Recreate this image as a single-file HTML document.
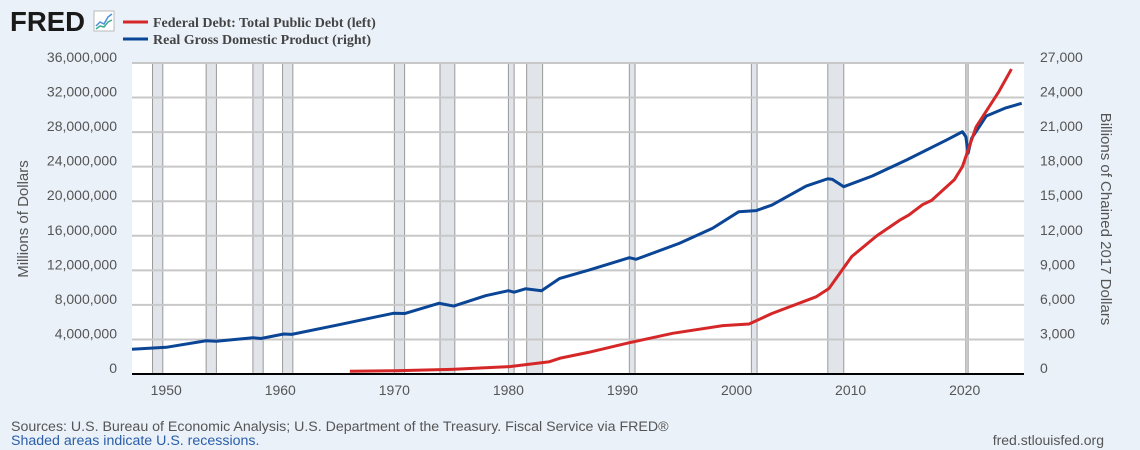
<!DOCTYPE html>
<html><head><meta charset="utf-8"><style>
body{margin:0;background:#eaf1f9;}
svg{display:block;font-family:"Liberation Sans",Arial,sans-serif;}
</style></head><body>
<svg id="chart" width="1140" height="450" viewBox="0 0 1140 450">
<rect width="1140" height="450" fill="#eaf1f9"/>
<text x="10" y="31" font-size="28" font-weight="bold" fill="#1a1a1a" textLength="75" lengthAdjust="spacingAndGlyphs">FRED</text>
<g><rect x="94" y="11" width="20" height="20" fill="#fff" stroke="#bbb"/><polyline points="96,26 100,22 104,24 108,17 112,14" fill="none" stroke="#4a90d9" stroke-width="1.5"/><polyline points="96,29 100,26 104,27 108,22 112,20" fill="none" stroke="#3bb08f" stroke-width="1.5"/></g>
<g>
<line x1="123" y1="22" x2="148" y2="22" stroke="#d62728" stroke-width="3"/>
<text x="153" y="27" font-family="Liberation Serif,serif" font-weight="bold" font-size="14" fill="#444">Federal Debt: Total Public Debt (left)</text>
<line x1="123" y1="39" x2="148" y2="39" stroke="#0b4596" stroke-width="3"/>
<text x="153" y="44" font-family="Liberation Serif,serif" font-weight="bold" font-size="14" fill="#444">Real Gross Domestic Product (right)</text>
</g>
<rect x="132" y="63" width="892" height="311" fill="#fff"/>
<g id="rec"></g><g id="grid"></g><g id="lines"></g><g id="axes"></g>
<text transform="translate(28,219) rotate(-90)" text-anchor="middle" font-size="15" fill="#555">Millions of Dollars</text>
<text transform="translate(1101,219) rotate(90)" text-anchor="middle" font-size="15" fill="#555">Billions of Chained 2017 Dollars</text>
<text x="11" y="431" font-size="14.2" fill="#555">Sources: U.S. Bureau of Economic Analysis; U.S. Department of the Treasury. Fiscal Service via FRED®</text>
<text x="11" y="445" font-size="14.2" fill="#2a5ea8">Shaded areas indicate U.S. recessions.</text>
<text x="1104" y="445" text-anchor="end" font-size="14" fill="#555">fred.stlouisfed.org</text>
</svg>
<script>
const recStarts=[1948.8,1953.5,1957.6,1960.2,1970.0,1974.0,1980.0,1981.6,1990.6,2001.3,2008.0,2020.1];
const recEnds=[1949.7,1954.4,1958.5,1961.1,1970.9,1975.3,1980.5,1983.0,1991.1,2001.8,2009.4,2020.3];
const leftTicks=[0,4000000,8000000,12000000,16000000,20000000,24000000,28000000,32000000,36000000];
const rightTicks=[0,3000,6000,9000,12000,15000,18000,21000,24000,27000];
const xTicks=[1950,1960,1970,1980,1990,2000,2010,2020];
const debtYears=[1966.1,1970,1975,1980.1,1983.6,1984.5,1987,1990.6,1994.4,1998.8,2001.1,2003.1,2007,2008.1,2010.1,2012.3,2014.3,2015.1,2016.3,2017.1,2019.1,2019.8,2021,2023,2024.1];
const debtVals=[320000,380000,540000,850000,1420000,1820000,2500000,3620000,4710000,5600000,5790000,7000000,8950000,9900000,13600000,16000000,17800000,18400000,19600000,20100000,22500000,24000000,28600000,32700000,35300000];
const gdpYears=[1947,1950,1953.5,1954.4,1957.6,1958.3,1960.3,1961,1965,1969.9,1970.9,1973.9,1975.2,1978,1980,1980.5,1981.5,1982.9,1984.5,1987.1,1990.6,1991.2,1995,1997.9,2000.2,2001.7,2003.1,2006.1,2008.0,2008.4,2009.4,2011.9,2014.9,2018.4,2019.8,2020.1,2020.3,2020.6,2021.9,2023.6,2025.0];
const gdpVals=[2144,2318,2890,2840,3150,3080,3470,3440,4250,5270,5250,6140,5900,6800,7230,7100,7400,7230,8300,9030,10100,9960,11350,12650,14090,14180,14670,16320,16950,16900,16260,17190,18580,20310,21030,20600,19160,20450,22400,23100,23500];
const X0=1947,X1=2025.2,PL=132,PR=1024,PT=63,PB=374;
const x=y=>PL+(y-X0)/(X1-X0)*(PR-PL);
const yL=v=>PB-v/36000000*(PB-PT);
const yR=v=>PB-v/27000*(PB-PT);
const NS='http://www.w3.org/2000/svg';
function mk(tag,attrs,parent){const e=document.createElementNS(NS,tag);for(const k in attrs)e.setAttribute(k,attrs[k]);document.getElementById(parent).appendChild(e);return e;}
recStarts.forEach((s,i)=>{
 const r=mk('rect',{x:x(s),y:PT,width:x(recEnds[i])-x(s),height:PB-PT,fill:'#e1e5ea',stroke:'#999','stroke-width':1},'rec');
 
 
});
leftTicks.forEach((v,i)=>{
 const yy=yL(v);
 if(v>0){const l=mk('line',{x1:PL,x2:PR,y1:yy,y2:yy,stroke:'#c8c8c8','stroke-width':2},'grid');
 
 }
 const t=mk('text',{x:117,y:yy-1,'text-anchor':'end','font-size':14,fill:'#555'},'axes');
 t.textContent=v.toLocaleString('en-US');
 
 
});
rightTicks.forEach(v=>{
 const t=mk('text',{x:1040,y:yR(v)-1,'font-size':14,fill:'#555'},'axes');
 t.textContent=v.toLocaleString('en-US');
 
 
});
xTicks.forEach(v=>{
 const t=mk('text',{x:x(v),y:395,'text-anchor':'middle','font-size':14,fill:'#555'},'axes');
 t.textContent=v;
 
 
});
const ax=mk('line',{x1:PL,x2:PR,y1:PB,y2:PB,stroke:'#000','stroke-width':2},'axes');


const g=mk('polyline',{points:gdpYears.map((yr,i)=>x(yr)+','+yR(gdpVals[i])).join(' '),fill:'none',stroke:'#0b4596','stroke-width':3,'stroke-linejoin':'round'},'lines');


const d=mk('polyline',{points:debtYears.map((yr,i)=>x(yr)+','+yL(debtVals[i])).join(' '),fill:'none',stroke:'#d62728','stroke-width':3,'stroke-linejoin':'round'},'lines');


</script>
</body></html>
